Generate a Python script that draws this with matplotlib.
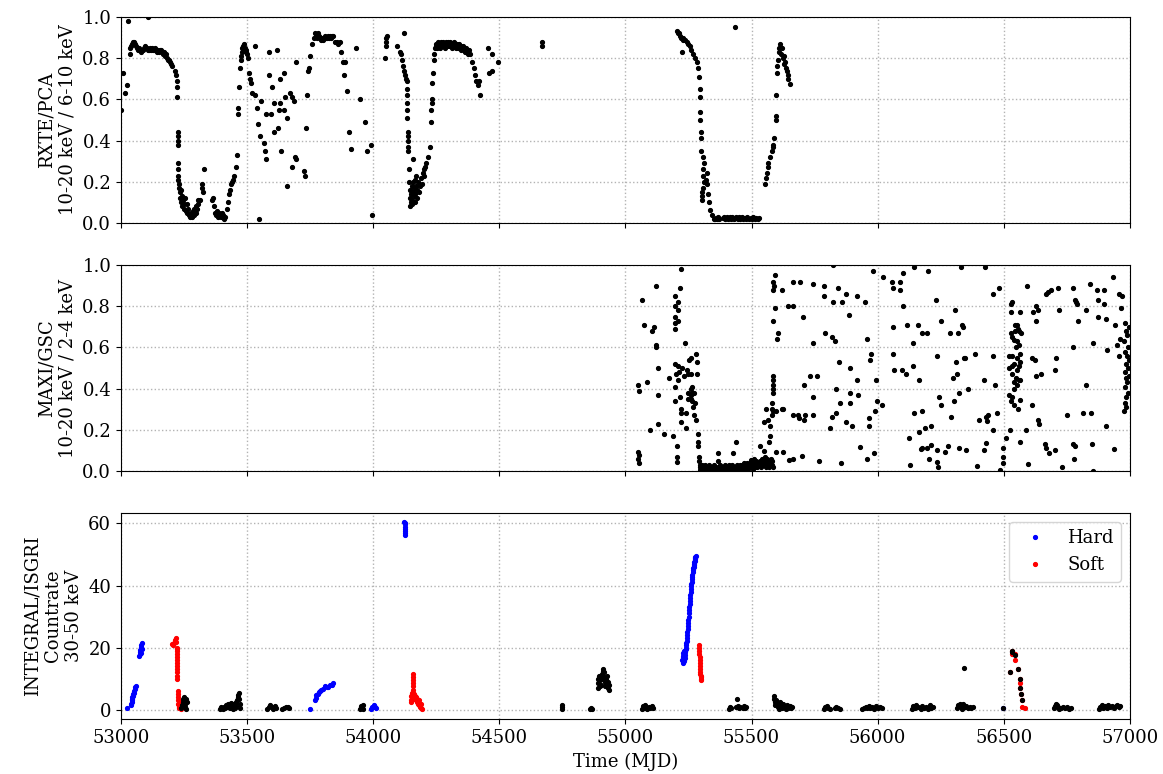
import matplotlib
matplotlib.use("Agg")
import matplotlib.pyplot as plt

plt.rcParams['font.family'] = ['DejaVu Serif']
plt.rcParams['font.size'] = 13

# ---------------- RXTE/PCA hardness (10-20 keV / 6-10 keV) ----------------
rxte_start = [(53000, 0.55), (53008, 0.73), (53016, 0.63), (53024, 0.67), (53028, 0.98), (53107, 1.0)]

rxte_plateau1 = [
    (53034, 0.82), (53036, 0.85), (53040, 0.86), (53044, 0.87), (53048, 0.88), (53052, 0.88),
    (53056, 0.87), (53060, 0.86), (53064, 0.85), (53068, 0.84), (53072, 0.85), (53076, 0.84),
    (53080, 0.83), (53084, 0.84), (53088, 0.84), (53092, 0.85), (53096, 0.86), (53100, 0.85),
    (53104, 0.85), (53108, 0.84), (53112, 0.84), (53116, 0.85), (53120, 0.84), (53124, 0.85),
    (53128, 0.84), (53132, 0.84), (53136, 0.85), (53140, 0.84), (53144, 0.83), (53148, 0.84),
    (53152, 0.83), (53156, 0.84), (53160, 0.84), (53164, 0.83), (53168, 0.82), (53172, 0.83),
    (53176, 0.81), (53180, 0.82), (53184, 0.80), (53188, 0.79), (53192, 0.79), (53196, 0.78),
    (53200, 0.77), (53204, 0.76),
]

rxte_dip1 = [
    (53214, 0.74), (53218, 0.72), (53221, 0.69), (53222, 0.66), (53223, 0.61), (53225, 0.44),
    (53225, 0.42), (53226, 0.40), (53226, 0.38), (53227, 0.29), (53227, 0.26), (53228, 0.23),
    (53228, 0.21), (53230, 0.19), (53232, 0.17), (53234, 0.15), (53236, 0.12), (53238, 0.16),
    (53240, 0.10), (53242, 0.08), (53244, 0.13), (53246, 0.11), (53248, 0.09), (53250, 0.07),
    (53254, 0.12), (53256, 0.06), (53260, 0.09), (53262, 0.05), (53266, 0.07), (53270, 0.04),
    (53272, 0.03), (53276, 0.05), (53278, 0.04), (53282, 0.03), (53284, 0.06), (53288, 0.04),
    (53290, 0.07), (53294, 0.05), (53296, 0.08), (53298, 0.05), (53302, 0.07), (53304, 0.09),
    (53306, 0.11), (53313, 0.11), (53321, 0.19), (53323, 0.17), (53325, 0.15), (53329, 0.26),
    (53360, 0.11), (53364, 0.12), (53368, 0.08), (53372, 0.05), (53376, 0.04), (53380, 0.06),
    (53384, 0.03), (53388, 0.05), (53392, 0.04), (53396, 0.03), (53400, 0.05), (53404, 0.04),
    (53408, 0.02), (53412, 0.03), (53420, 0.07), (53424, 0.10), (53430, 0.14), (53434, 0.16),
    (53438, 0.19), (53442, 0.20), (53446, 0.21), (53450, 0.23), (53455, 0.27), (53460, 0.33),
    (53464, 0.53), (53466, 0.56), (53468, 0.66), (53472, 0.75), (53474, 0.79), (53476, 0.81),
    (53478, 0.83), (53480, 0.85), (53484, 0.86), (53486, 0.84), (53488, 0.87), (53490, 0.85),
    (53494, 0.84), (53496, 0.83), (53500, 0.82), (53504, 0.80), (53506, 0.73), (53510, 0.70),
    (53514, 0.68),
]

rxte_scatter1 = [
    (53531, 0.86), (53547, 0.02), (53520, 0.63), (53531, 0.62), (53539, 0.56), (53543, 0.48),
    (53551, 0.42), (53555, 0.59), (53567, 0.39), (53571, 0.35), (53575, 0.31), (53575, 0.53),
    (53586, 0.83), (53586, 0.72), (53594, 0.53), (53598, 0.66), (53606, 0.58), (53606, 0.44),
    (53618, 0.84), (53622, 0.46), (53626, 0.55), (53630, 0.58), (53630, 0.70), (53634, 0.35),
    (53646, 0.73), (53646, 0.55), (53650, 0.61), (53658, 0.51), (53658, 0.18), (53670, 0.63),
    (53678, 0.61), (53678, 0.27), (53686, 0.59), (53690, 0.32), (53694, 0.31), (53694, 0.78),
    (53725, 0.25), (53729, 0.23), (53733, 0.46), (53737, 0.62), (53741, 0.74), (53745, 0.75),
    (53749, 0.81), (53757, 0.87), (53765, 0.90), (53769, 0.92),
]

rxte_plateau2 = [
    (53773, 0.91), (53777, 0.90), (53781, 0.92), (53785, 0.91), (53789, 0.90), (53793, 0.89),
    (53797, 0.90), (53801, 0.89), (53805, 0.90), (53809, 0.91), (53813, 0.90), (53817, 0.90),
    (53821, 0.91), (53825, 0.90), (53829, 0.91), (53833, 0.90), (53837, 0.91), (53841, 0.91),
    (53850, 0.88), (53856, 0.88), (53860, 0.87), (53867, 0.88), (53872, 0.83), (53880, 0.78),
    (53888, 0.78), (53885, 0.72), (53896, 0.64), (53932, 0.85), (53904, 0.44), (53912, 0.36),
    (53948, 0.60), (53967, 0.49), (53975, 0.35), (53991, 0.38), (53994, 0.04),
]

rxte_dip2 = [
    (54047, 0.80), (54050, 0.86), (54051, 0.88), (54052, 0.90), (54055, 0.91), (54094, 0.86),
    (54122, 0.92), (54106, 0.83), (54109, 0.82), (54114, 0.79), (54118, 0.76), (54122, 0.74),
    (54126, 0.72), (54129, 0.70), (54133, 0.69), (54133, 0.65), (54134, 0.62), (54135, 0.58),
    (54135, 0.55), (54135, 0.51), (54137, 0.44), (54138, 0.42), (54139, 0.40), (54139, 0.37),
    (54139, 0.35), (54142, 0.26), (54158, 0.31), (54144, 0.20), (54145, 0.16), (54146, 0.12),
    (54147, 0.08), (54149, 0.10), (54150, 0.14), (54152, 0.18), (54153, 0.11), (54155, 0.09),
    (54156, 0.15), (54158, 0.20), (54160, 0.13), (54162, 0.17), (54164, 0.10), (54165, 0.21),
    (54167, 0.14), (54169, 0.18), (54171, 0.23), (54173, 0.12), (54175, 0.16), (54178, 0.20),
    (54181, 0.15), (54184, 0.18), (54188, 0.22), (54192, 0.19), (54196, 0.24), (54200, 0.23),
    (54203, 0.26), (54205, 0.27), (54210, 0.29), (54217, 0.32), (54225, 0.37), (54229, 0.49),
    (54231, 0.55), (54232, 0.58), (54233, 0.60), (54233, 0.68), (54237, 0.73), (54241, 0.79),
    (54243, 0.82), (54245, 0.85),
]

rxte_plateau3 = [
    (54248, 0.86), (54251, 0.87), (54254, 0.85), (54257, 0.88), (54260, 0.86), (54263, 0.87),
    (54266, 0.85), (54269, 0.88), (54272, 0.87), (54275, 0.86), (54278, 0.88), (54281, 0.87),
    (54284, 0.85), (54287, 0.88), (54290, 0.87), (54293, 0.86), (54296, 0.88), (54299, 0.87),
    (54302, 0.86), (54305, 0.88), (54308, 0.87), (54311, 0.85), (54314, 0.87), (54317, 0.86),
    (54320, 0.88), (54323, 0.86), (54326, 0.87), (54329, 0.85), (54332, 0.87), (54335, 0.86),
    (54338, 0.85), (54341, 0.87), (54344, 0.86), (54347, 0.84), (54350, 0.86), (54353, 0.85),
    (54356, 0.86), (54359, 0.84), (54362, 0.85), (54365, 0.83), (54368, 0.85), (54371, 0.84),
    (54374, 0.82), (54378, 0.84), (54384, 0.82), (54390, 0.78), (54400, 0.75), (54404, 0.72),
    (54408, 0.69), (54416, 0.67), (54424, 0.62), (54420, 0.69), (54455, 0.85), (54471, 0.82),
    (54460, 0.73), (54471, 0.74), (54495, 0.78), (54669, 0.88), (54670, 0.86),
]

rxte_dip3 = [
    (55204, 0.93), (55208, 0.92), (55212, 0.92), (55217, 0.91), (55224, 0.83), (55222, 0.90),
    (55227, 0.90), (55230, 0.89), (55236, 0.89), (55243, 0.88), (55250, 0.87), (55256, 0.86),
    (55262, 0.84), (55269, 0.82), (55276, 0.80), (55283, 0.78), (55287, 0.75), (55291, 0.71),
    (55295, 0.65), (55295, 0.61), (55297, 0.54), (55297, 0.50), (55299, 0.44), (55299, 0.41),
    (55300, 0.35), (55309, 0.32), (55312, 0.29), (55309, 0.26), (55308, 0.23), (55310, 0.20),
    (55309, 0.17), (55303, 0.15), (55304, 0.13), (55303, 0.11), (55322, 0.24), (55320, 0.21),
    (55323, 0.19), (55329, 0.14), (55330, 0.10), (55337, 0.065), (55343, 0.04), (55350, 0.02),
    (55356, 0.02), (55360, 0.025), (55364, 0.02), (55368, 0.03), (55372, 0.02), (55386, 0.025),
    (55390, 0.03), (55394, 0.02), (55398, 0.025), (55402, 0.03), (55406, 0.02), (55410, 0.025),
    (55414, 0.03), (55418, 0.02), (55422, 0.03), (55426, 0.025), (55430, 0.02), (55440, 0.03),
    (55444, 0.025), (55448, 0.02), (55452, 0.03), (55456, 0.02), (55460, 0.025), (55464, 0.03),
    (55468, 0.02), (55476, 0.025), (55480, 0.02), (55484, 0.03), (55490, 0.02), (55496, 0.025),
    (55500, 0.02), (55506, 0.03), (55512, 0.02), (55518, 0.025), (55524, 0.02), (55528, 0.025),
    (55434, 0.95),
]

rxte_rise3 = [
    (55554, 0.19), (55556, 0.22), (55561, 0.24), (55564, 0.27), (55567, 0.29), (55574, 0.32),
    (55580, 0.35), (55584, 0.37), (55587, 0.38), (55591, 0.41), (55597, 0.50), (55597, 0.52),
    (55597, 0.62), (55601, 0.73), (55603, 0.76), (55604, 0.79), (55607, 0.83), (55613, 0.87),
    (55610, 0.85), (55616, 0.82), (55620, 0.85), (55623, 0.80), (55627, 0.81), (55630, 0.77),
    (55633, 0.78), (55636, 0.75), (55640, 0.74), (55643, 0.72), (55646, 0.70), (55653, 0.675),
]

# ---------------- MAXI/GSC hardness (10-20 keV / 2-4 keV) ----------------
maxi_rise = [
    (55050, 0.42), (55052, 0.39), (55050, 0.09), (55052, 0.08), (55051, 0.056), (55053, 0.04),
    (55066, 0.83), (55072, 0.71), (55085, 0.43), (55098, 0.20), (55106, 0.68), (55114, 0.70),
    (55120, 0.90), (55120, 0.60), (55122, 0.61), (55128, 0.23), (55129, 0.37), (55131, 0.50),
    (55152, 0.18), (55174, 0.45), (55190, 0.17), (55196, 0.85), (55196, 0.80), (55197, 0.75),
    (55196, 0.72), (55198, 0.69), (55196, 0.52), (55198, 0.41), (55196, 0.34), (55203, 0.12),
    (55206, 0.07), (55206, 0.045), (55200, 0.47), (55208, 0.82), (55208, 0.78), (55209, 0.73),
    (55216, 0.89), (55220, 0.98), (55210, 0.51), (55211, 0.48), (55210, 0.44), (55216, 0.36),
    (55220, 0.28), (55221, 0.24), (55222, 0.30), (55226, 0.50), (55233, 0.46), (55237, 0.62),
    (55240, 0.28), (55240, 0.21), (55246, 0.49), (55247, 0.47), (55249, 0.38), (55250, 0.35),
    (55253, 0.54), (55259, 0.55), (55259, 0.47), (55259, 0.40), (55261, 0.37), (55259, 0.35),
    (55266, 0.41), (55264, 0.38), (55266, 0.34), (55268, 0.31), (55272, 0.38), (55272, 0.27),
    (55275, 0.33), (55279, 0.57), (55281, 0.25), (55283, 0.53), (55283, 0.47), (55286, 0.18),
    (55287, 0.14), (55289, 0.12), (55290, 0.07), (55293, 0.05), (55294, 0.03), (55295, 0.005),
]

maxi_low = [
    (55297, 0.02), (55300, 0.01), (55303, 0.03), (55306, 0.00), (55309, 0.02), (55312, 0.01),
    (55315, 0.03), (55318, 0.01), (55321, 0.02), (55324, 0.00), (55327, 0.02), (55330, 0.01),
    (55333, 0.03), (55336, 0.01), (55339, 0.02), (55342, 0.00), (55345, 0.02), (55348, 0.01),
    (55351, 0.03), (55354, 0.02), (55357, 0.01), (55360, 0.02), (55363, 0.00), (55367, 0.085),
    (55368, 0.05), (55370, 0.02), (55373, 0.01), (55376, 0.03), (55379, 0.01), (55382, 0.02),
    (55385, 0.00), (55388, 0.02), (55391, 0.01), (55394, 0.03), (55397, 0.02), (55400, 0.01),
    (55403, 0.02), (55406, 0.00), (55409, 0.02), (55412, 0.03), (55415, 0.01), (55418, 0.02),
    (55421, 0.01), (55424, 0.03), (55428, 0.085), (55430, 0.02), (55433, 0.01), (55437, 0.14),
    (55440, 0.02), (55443, 0.03), (55446, 0.01), (55449, 0.02), (55452, 0.00), (55455, 0.03),
    (55458, 0.02), (55461, 0.01), (55464, 0.03), (55467, 0.02), (55470, 0.04), (55473, 0.01),
    (55476, 0.03), (55479, 0.02), (55482, 0.04), (55485, 0.01), (55488, 0.03), (55491, 0.02),
    (55494, 0.04), (55496, 0.055), (55498, 0.02), (55501, 0.03), (55504, 0.01), (55507, 0.04),
    (55510, 0.06), (55513, 0.02), (55516, 0.03), (55519, 0.05), (55522, 0.02), (55525, 0.04),
    (55528, 0.03), (55532, 0.12), (55534, 0.05), (55537, 0.02), (55540, 0.06), (55543, 0.03),
    (55546, 0.05), (55548, 0.095), (55551, 0.04), (55555, 0.07), (55556, 0.045), (55559, 0.02),
    (55562, 0.06), (55565, 0.03), (55568, 0.05), (55571, 0.02), (55574, 0.04), (55577, 0.06),
    (55580, 0.03), (55583, 0.05), (55586, 0.02),
]

maxi_after = [
    (55549, 0.24), (55557, 0.30), (55566, 0.25), (55573, 0.22), (55570, 0.14), (55575, 0.17),
    (55580, 0.33), (55581, 0.30), (55580, 0.27), (55584, 0.46), (55584, 0.44), (55584, 0.42),
    (55584, 0.40), (55584, 0.38), (55587, 0.29), (55597, 0.29), (55620, 0.30), (55624, 0.30),
    (55587, 0.92), (55588, 0.90), (55587, 0.88), (55593, 0.95), (55606, 0.67), (55601, 0.64),
    (55593, 0.79), (55587, 0.73), (55620, 0.88), (55646, 0.80), (55666, 0.92), (55666, 0.27),
    (55597, 0.09), (55623, 0.09), (55650, 0.055),
    (55666, 0.056), (55666, 0.80), (55692, 0.92), (55699, 0.073), (55703, 0.75), (55708, 0.42),
    (55686, 0.27), (55688, 0.255), (55712, 0.27), (55710, 0.25), (55732, 0.46), (55742, 0.91),
    (55745, 0.62), (55745, 0.36), (55742, 0.27), (55759, 0.46), (55769, 0.05), (55788, 0.90),
    (55788, 0.85), (55792, 0.67), (55812, 0.21), (55818, 0.65), (55818, 0.26), (55822, 1.0),
    (55824, 0.82), (55831, 0.63), (55835, 0.40), (55835, 0.28), (55844, 0.89), (55848, 0.53),
    (55851, 0.33), (55855, 0.037), (55857, 0.82), (55874, 0.86), (55874, 0.24), (55888, 0.76),
    (55890, 0.50), (55890, 0.38), (55892, 0.33), (55897, 0.22), (55919, 0.85), (55920, 0.44),
    (55923, 0.37), (55930, 0.115), (55950, 0.82), (55956, 0.64), (55959, 0.056), (55967, 0.255),
    (55967, 0.22), (55970, 0.54), (55972, 0.57), (55980, 0.97), (55987, 0.088), (55990, 0.29),
    (55993, 0.44), (55999, 0.34), (56019, 0.32), (56022, 0.94), (56055, 0.92), (56059, 0.89),
    (56062, 0.70), (56059, 0.57), (56065, 0.49), (56088, 0.92), (56088, 0.88), (56095, 0.49),
    (56099, 0.96), (56099, 0.80), (56112, 0.47), (56115, 0.71), (56125, 0.16), (56128, 0.03),
    (56139, 0.62), (56141, 0.51), (56144, 0.28), (56145, 0.99), (56161, 0.71), (56165, 0.44),
    (56165, 0.19), (56170, 0.105), (56174, 0.11), (56174, 0.67), (56176, 0.29), (56187, 0.21),
    (56197, 0.67), (56197, 0.11), (56200, 0.97), (56203, 0.06), (56210, 0.22), (56212, 0.125),
    (56233, 0.83), (56234, 0.10), (56236, 0.56), (56236, 0.045), (56239, 0.018), (56245, 0.36),
    (56252, 0.73), (56252, 0.32), (56266, 0.09), (56280, 0.12), (56286, 0.67), (56289, 0.26),
    (56298, 0.45), (56302, 0.34), (56306, 0.78), (56312, 0.53), (56316, 0.47), (56320, 0.67),
    (56323, 0.38), (56324, 0.11), (56332, 0.99), (56336, 0.71), (56343, 0.55),
]

maxi_late = [
    (56427, 0.99), (56457, 0.86), (56483, 0.89), (56340, 0.70), (56347, 0.55), (56386, 0.57),
    (56457, 0.56), (56422, 0.44), (56467, 0.42), (56403, 0.25), (56430, 0.26), (56432, 0.245),
    (56439, 0.27), (56459, 0.20), (56475, 0.28), (56421, 0.10), (56431, 0.135), (56393, 0.025),
    (56484, 0.005), (56497, 0.11), (56498, 0.07), (56496, 0.04), (56358, 0.40), (56352, 0.10),
    (56528, 0.81), (56529, 0.77), (56534, 0.82), (56563, 0.77), (56545, 0.71), (56546, 0.68),
    (56554, 0.71), (56558, 0.69), (56561, 0.68), (56570, 0.67), (56528, 0.67), (56534, 0.65),
    (56541, 0.635), (56554, 0.63), (56550, 0.60), (56561, 0.61), (56521, 0.56), (56534, 0.56),
    (56566, 0.57), (56554, 0.55), (56521, 0.50), (56532, 0.51), (56541, 0.52), (56554, 0.49),
    (56561, 0.51), (56566, 0.53), (56534, 0.47), (56547, 0.45), (56561, 0.44), (56541, 0.43),
    (56554, 0.42), (56566, 0.44), (56541, 0.40), (56521, 0.37), (56534, 0.36), (56566, 0.345),
    (56528, 0.34), (56541, 0.32), (56558, 0.30), (56508, 0.16), (56524, 0.20), (56566, 0.14),
    (56594, 0.90), (56590, 0.20), (56597, 0.035), (56613, 0.32), (56617, 0.77), (56626, 0.80),
    (56637, 0.78), (56626, 0.73), (56613, 0.55), (56624, 0.54), (56626, 0.46), (56648, 0.47),
    (56634, 0.25), (56640, 0.23), (56665, 0.13), (56667, 0.11), (56669, 0.86), (56674, 0.87),
    (56686, 0.88), (56716, 0.89), (56702, 0.49), (56708, 0.55), (56718, 0.78), (56702, 0.10),
    (56679, 0.085), (56730, 0.02), (56749, 0.27), (56773, 0.89), (56773, 0.60), (56783, 0.83),
    (56785, 0.82), (56792, 0.81), (56796, 0.73), (56776, 0.13), (56783, 0.12), (56779, 0.06),
    (56813, 0.28), (56826, 0.78), (56826, 0.42), (56842, 0.91), (56845, 0.28), (56849, 0.13),
    (56853, 0.62), (56853, 0.001), (56868, 0.88), (56874, 0.83), (56874, 0.75), (56896, 0.88),
    (56896, 0.81), (56905, 0.74), (56905, 0.22), (56910, 0.59), (56932, 0.94), (56937, 0.105),
    (56941, 0.71), (56958, 0.86), (56968, 0.85), (56964, 0.79), (56950, 0.61), (56960, 0.64),
    (56958, 0.56), (56980, 0.72), (56985, 0.68), (56990, 0.66), (56978, 0.63), (56994, 0.60),
    (56982, 0.58), (56988, 0.56), (56996, 0.54), (56984, 0.52), (56992, 0.50), (56980, 0.48),
    (56995, 0.46), (56986, 0.45), (56990, 0.43), (56982, 0.41), (56994, 0.38), (56986, 0.36),
    (56980, 0.33), (56984, 0.31), (56978, 0.29), (56998, 0.70),
]

# ---------------- INTEGRAL/ISGRI countrate 30-50 keV ----------------
isgri_hard = [
    (53022, 0.5), (53040, 1.5), (53041, 2.0), (53042, 2.5), (53043, 3.0), (53044, 3.5),
    (53045, 4.0), (53046, 4.5), (53048, 5.0), (53050, 5.5), (53052, 6.0), (53054, 6.8),
    (53056, 7.3), (53058, 7.6),
    (53073, 17.2), (53075, 17.8), (53076, 18.5), (53077, 19.2), (53078, 19.8), (53080, 20.3),
    (53081, 21.0), (53083, 21.5), (53079, 18.3), (53082, 19.5),
    (53749, 0.3), (53769, 3.0), (53772, 3.8), (53775, 4.6), (53780, 5.0), (53786, 5.6),
    (53790, 5.9), (53795, 6.2), (53802, 6.8), (53808, 7.8), (53815, 7.2), (53822, 7.3),
    (53835, 8.1), (53840, 8.7), (53828, 7.9),
    (53990, 0.3), (53996, 1.0), (54002, 1.5), (54008, 0.8), (54012, 0.4),
    (54124, 60.5), (54125, 59.8), (54125, 59.0), (54126, 58.3), (54126, 57.5), (54127, 56.8),
    (54127, 56.2), (54128, 60.0),
    (55226, 16.0), (55227, 17.2), (55228, 15.2), (55229, 18.2), (55230, 17.0), (55231, 15.8),
    (55232, 16.4), (55233, 18.8), (55234, 18.0), (55235, 16.8), (55236, 17.5), (55237, 18.5),
    (55238, 19.0), (55239, 19.5), (55240, 20.0), (55241, 20.8), (55242, 21.5), (55243, 22.2),
    (55244, 23.0), (55245, 24.0), (55246, 25.0), (55247, 26.0), (55248, 27.0), (55249, 28.0),
    (55250, 29.0), (55251, 30.0), (55252, 31.0), (55253, 32.0), (55254, 33.0), (55255, 34.0),
    (55256, 35.0), (55257, 36.0), (55258, 37.0), (55259, 38.0), (55260, 39.0), (55261, 39.8),
    (55262, 40.5), (55263, 41.2), (55264, 42.0), (55265, 42.8), (55266, 43.5), (55267, 44.2),
    (55268, 45.0), (55269, 45.5), (55270, 46.0), (55271, 46.5), (55272, 47.0), (55273, 47.5),
    (55274, 48.0), (55275, 48.5), (55276, 49.0), (55277, 49.3), (55278, 49.5),
    (56498, 0.7),
]

isgri_soft = [
    (53201, 21.2), (53205, 21.0), (53210, 21.5), (53214, 22.5), (53218, 23.0), (53220, 21.8),
    (53221, 20.0), (53221, 19.5), (53222, 19.0), (53222, 18.0), (53222, 17.0), (53223, 16.0),
    (53223, 15.0), (53223, 14.0), (53223, 13.0), (53223, 12.0), (53224, 11.0), (53224, 10.0),
    (53225, 6.0), (53225, 5.0), (53226, 4.0), (53227, 3.0), (53228, 2.0), (53229, 1.5),
    (53230, 1.0), (53232, 0.5), (53234, 2.5), (53236, 1.2), (53238, 0.3),
    (54158, 11.5), (54158, 10.5), (54158, 9.5), (54159, 8.5), (54159, 7.5), (54159, 6.5),
    (54158, 5.5), (54148, 3.0), (54150, 4.5), (54152, 5.5), (54154, 4.0), (54156, 3.5),
    (54160, 4.0), (54162, 5.0), (54164, 3.5), (54166, 4.5), (54168, 3.0), (54170, 4.0),
    (54172, 3.5), (54175, 2.5), (54178, 2.0), (54180, 3.0), (54183, 1.5), (54185, 1.0),
    (54188, 0.5), (54190, 2.0), (54192, 0.3), (54150, 2.5),
    (55292, 21.0), (55292, 20.0), (55293, 19.0), (55293, 18.0), (55294, 17.0), (55294, 16.0),
    (55295, 15.0), (55295, 14.0), (55296, 13.0), (55297, 12.0), (55297, 11.5), (55298, 11.0),
    (55298, 10.5), (55299, 10.0), (55299, 9.5),
    (56524, 12.2), (56531, 19.0), (56533, 18.0), (56544, 18.0), (56546, 16.0), (56557, 13.0),
    (56564, 10.0), (56565, 8.5), (56566, 7.0), (56570, 5.0), (56572, 3.0), (56574, 1.0),
    (56584, 0.5),
]

isgri_other = [
    (53240, 0.5), (53243, 1.5), (53245, 2.5), (53247, 3.5), (53249, 4.0), (53250, 3.0),
    (53252, 2.0), (53254, 1.0), (53256, 0.3), (53258, 3.5), (53260, 2.5),
    (53393, 0.2), (53398, 0.8), (53403, 0.3), (53408, 1.0), (53412, 0.5), (53416, 1.5),
    (53420, 0.8), (53424, 2.0), (53428, 1.2), (53432, 0.4), (53436, 2.2), (53440, 1.0),
    (53444, 0.3), (53448, 1.8), (53452, 0.6), (53455, 2.5), (53458, 1.2), (53461, 3.0),
    (53463, 4.0), (53465, 4.8), (53467, 5.5), (53469, 3.5), (53471, 2.0), (53472, 0.5),
    (53580, 0.3), (53586, 1.0), (53592, 1.5), (53598, 0.8), (53604, 0.2), (53610, 1.2),
    (53614, 0.5),
    (53638, 0.2), (53646, 0.5), (53654, 0.8), (53662, 1.0), (53668, 0.6),
    (53948, 0.3), (53950, 1.2), (53955, 0.7), (53958, 1.4), (53960, 0.2),
    (54747, 0.3), (54748, 1.0), (54748, 1.6), (54860, 0.2), (54864, 0.6), (54868, 0.3),
    (54892, 7.0), (54892, 8.5), (54893, 10.0), (54895, 11.0), (54898, 9.5), (54900, 7.5),
    (54904, 8.0), (54906, 10.0), (54908, 11.5), (54910, 12.5), (54912, 13.0), (54914, 12.0),
    (54916, 10.5), (54918, 9.0), (54920, 7.5), (54922, 8.5), (54925, 10.0), (54928, 11.0),
    (54930, 9.0), (54932, 7.0), (54934, 8.0), (54936, 6.5),
    (55064, 0.3), (55068, 1.2), (55072, 0.5), (55076, 1.5), (55080, 0.8), (55086, 0.2),
    (55092, 1.0), (55098, 0.4), (55104, 1.3), (55108, 0.6),
    (55410, 0.3), (55414, 1.0), (55418, 0.5), (55438, 0.8), (55442, 3.5), (55446, 1.2),
    (55450, 0.4), (55455, 1.0), (55466, 0.5), (55470, 1.3), (55474, 0.6), (55478, 1.0),
    (55588, 4.5), (55590, 3.5), (55592, 2.5), (55594, 1.5), (55596, 3.0), (55600, 2.0),
    (55604, 1.0), (55608, 0.3), (55612, 2.5), (55616, 1.5), (55620, 0.5), (55624, 2.0),
    (55630, 1.0), (55636, 0.3), (55640, 1.5), (55646, 0.6), (55652, 1.2), (55658, 0.4),
    (55662, 0.9),
    (55786, 0.3), (55792, 0.8), (55798, 1.1), (55804, 0.5), (55810, 0.2), (55830, 0.4),
    (55836, 1.0), (55842, 0.6), (55852, 0.3),
    (55938, 0.2), (55946, 0.4), (55952, 1.0), (55958, 0.6), (55964, 1.2), (55970, 0.5),
    (55978, 0.9), (55986, 0.3), (55994, 1.1), (56002, 0.6), (56010, 1.0), (56018, 0.4),
    (56136, 0.3), (56142, 1.2), (56148, 0.5), (56154, 1.5), (56160, 0.8), (56170, 0.3),
    (56176, 1.3), (56182, 0.6), (56192, 1.0), (56200, 0.3), (56206, 1.4), (56212, 0.7),
    (56218, 1.0),
    (56314, 0.5), (56320, 1.5), (56326, 2.0), (56330, 1.0), (56336, 0.3), (56340, 1.8),
    (56342, 13.5), (56346, 0.8), (56352, 1.2), (56360, 0.4), (56366, 1.0), (56372, 0.6),
    (56378, 0.9),
    (56498, 0.7), (56524, 12.2), (56531, 19.0), (56533, 18.5), (56544, 17.5), (56557, 13.0),
    (56564, 10.0), (56566, 7.0), (56570, 5.0), (56572, 3.0),
    (56698, 0.4), (56702, 1.2), (56706, 2.0), (56710, 1.5), (56714, 0.8), (56720, 0.3),
    (56728, 0.6), (56736, 1.0), (56744, 0.4), (56752, 0.8), (56760, 0.3), (56768, 0.7),
    (56876, 0.3), (56882, 1.0), (56888, 1.5), (56894, 0.6), (56900, 1.2), (56908, 0.4),
    (56914, 1.5), (56920, 0.8), (56928, 1.3), (56936, 0.5), (56944, 1.2), (56950, 1.6),
    (56956, 0.9), (56960, 1.3),
]

rxte = (rxte_start + rxte_plateau1 + rxte_dip1 + rxte_scatter1 + rxte_plateau2
        + rxte_dip2 + rxte_plateau3 + rxte_dip3 + rxte_rise3)
maxi = maxi_rise + maxi_low + maxi_after + maxi_late


def cols(points):
    return [p[0] for p in points], [p[1] for p in points]


fig = plt.figure(figsize=(11.63, 7.74), dpi=100)
ax1 = fig.add_axes([0.104, 0.712, 0.8675, 0.266])
ax2 = fig.add_axes([0.104, 0.3915, 0.8675, 0.266], sharex=ax1)
ax3 = fig.add_axes([0.104, 0.071, 0.8675, 0.266], sharex=ax1)

ms = 5.5
x, y = cols(rxte)
ax1.plot(x, y, 'k.', ms=ms)
x, y = cols(maxi)
ax2.plot(x, y, 'k.', ms=ms)

x, y = cols(isgri_hard)
ax3.plot(x, y, '.', color='blue', ms=ms, label='Hard')
x, y = cols(isgri_soft)
ax3.plot(x, y, '.', color='red', ms=ms, label='Soft')
x, y = cols(isgri_other)
ax3.plot(x, y, 'k.', ms=ms)

ax1.set_ylim(0, 1)
ax2.set_ylim(0, 1)
ax3.set_ylim(-3, 63.3)
ax3.set_yticks([0, 20, 40, 60])
ax1.set_xlim(53000, 57000)
ax3.set_xticks([53000, 53500, 54000, 54500, 55000, 55500, 56000, 56500, 57000])

for ax in (ax1, ax2, ax3):
    ax.grid(True, linestyle=':', color='0.7', linewidth=1)
    ax.set_axisbelow(True)
ax1.tick_params(labelbottom=False)
ax2.tick_params(labelbottom=False)

ax1.set_ylabel("RXTE/PCA\n10-20 keV / 6-10 keV")
ax2.set_ylabel("MAXI/GSC\n10-20 keV / 2-4 keV")
ax3.set_ylabel("INTEGRAL/ISGRI\nCountrate\n30-50 keV")
ax3.set_xlabel("Time (MJD)")
ax3.legend(loc='upper right')

fig.savefig("out.png", dpi=100)
